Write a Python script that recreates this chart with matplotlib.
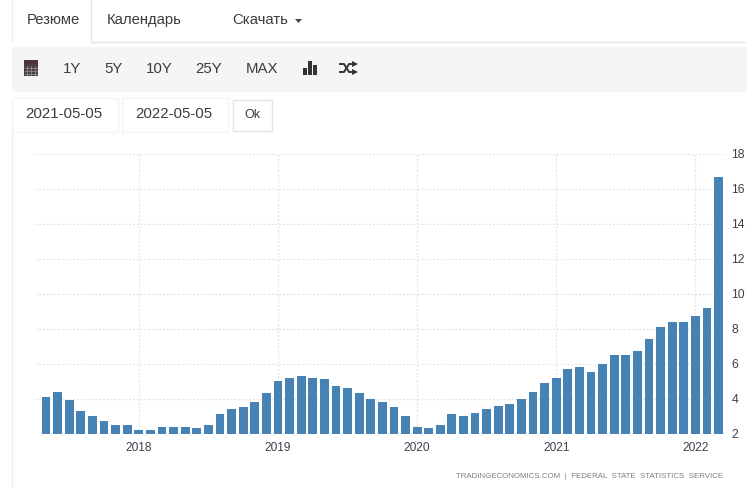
import matplotlib
matplotlib.use("Agg")
import matplotlib.pyplot as plt
from matplotlib.patches import Rectangle, Polygon

plt.rcParams['font.family'] = ['Liberation Sans', 'DejaVu Sans']

# Annual inflation, monthly from May 2017 to March 2022
inflation = [
    4.1, 4.4, 3.9, 3.3, 3.0, 2.7, 2.5, 2.5,
    2.2, 2.2, 2.4, 2.4, 2.4, 2.3, 2.5, 3.1, 3.4, 3.5, 3.8, 4.3,
    5.0, 5.2, 5.3, 5.2, 5.1, 4.7, 4.6, 4.3, 4.0, 3.8, 3.5, 3.0,
    2.4, 2.3, 2.5, 3.1, 3.0, 3.2, 3.4, 3.6, 3.7, 4.0, 4.4, 4.9,
    5.2, 5.7, 5.8, 5.5, 6.0, 6.5, 6.5, 6.7, 7.4, 8.1, 8.4, 8.4,
    8.7, 9.2, 16.7,
]
year_labels = ['2018', '2019', '2020', '2021', '2022']
january_positions = [8, 20, 32, 44, 56]
y_ticks = [2, 4, 6, 8, 10, 12, 14, 16, 18]
range_buttons = ['1Y', '5Y', '10Y', '25Y', 'MAX']
range_button_x = [72, 114, 159, 209, 262]
tab_labels = ['Резюме', 'Календарь', 'Скачать']
tab_x = [27, 107, 232]
date_from, date_to = '2021-05-05', '2022-05-05'
source_note = 'TRADINGECONOMICS.COM  |  FEDERAL  STATE  STATISTICS  SERVICE'

W, H = 747, 488
fig = plt.figure(figsize=(W / 100, H / 100), dpi=100, facecolor='white')

# Page layer in pixel coordinates, origin at the top left
ui = fig.add_axes([0, 0, 1, 1])
ui.set_xlim(0, W)
ui.set_ylim(H, 0)
ui.axis('off')

BORDER = '#e6e6e6'
TEXT = '#3c3c3c'

# Tab strip
ui.plot([91, W], [42, 42], color=BORDER, lw=1)
ui.plot([12, 12], [0, 42], color='#eeeeee', lw=1)
ui.plot([91, 91], [0, 42], color=BORDER, lw=1)
for label, x in zip(tab_labels, tab_x):
    ui.text(x, 20, label, fontsize=10.7, color=TEXT, va='center', ha='left')
ui.add_patch(Polygon([[295, 19], [302, 19], [298.5, 23]], color='#444444', lw=0))

# Toolbar
ui.add_patch(Rectangle((12, 47), W - 12, 45, fc='#f5f5f5', ec='none'))
for label, x in zip(range_buttons, range_button_x):
    ui.text(x, 69, label, fontsize=10.8, color=TEXT, va='center', ha='center')

# Calendar icon
ui.add_patch(Rectangle((24, 61), 14, 15, fc='#4a4040', ec='none'))
ui.add_patch(Rectangle((24, 60), 14, 4, fc='#4a3535', ec='none'))
for gx in (27, 31, 35):
    ui.plot([gx, gx], [66, 75], color='#9a9a9a', lw=0.5)
for gy in (68, 71, 74):
    ui.plot([25, 37], [gy, gy], color='#9a9a9a', lw=0.5)

# Bar-chart icon
for bx, top in zip((303, 308, 313), (68, 61, 65)):
    ui.add_patch(Rectangle((bx, top), 3.6, 75 - top, fc='#333333', ec='none'))

# Shuffle icon
ui.plot([340, 344, 349, 353], [64, 64, 72, 72], color='#333333', lw=1.4)
ui.plot([340, 344, 349, 353], [72, 72, 64, 64], color='#333333', lw=1.4)
ui.add_patch(Polygon([[352, 61], [358, 64], [352, 67]], color='#333333', lw=0))
ui.add_patch(Polygon([[352, 69], [358, 72], [352, 75]], color='#333333', lw=0))

# Date range inputs and the confirm button
ui.add_patch(Rectangle((12, 98), 106, 34, fc='white', ec='#f4f4f4', lw=1))
ui.add_patch(Rectangle((122, 98), 106, 34, fc='white', ec='#f4f4f4', lw=1))
ui.text(25, 114, date_from, fontsize=10.8, color=TEXT, va='center', ha='left')
ui.text(135, 114, date_to, fontsize=10.8, color=TEXT, va='center', ha='left')
ui.add_patch(Rectangle((232.5, 99.5), 39, 31, fc='white', ec='#e4e4e4', lw=1))
ui.text(252, 115, 'Ok', fontsize=9, color=TEXT, va='center', ha='center')

# Chart panel edge
ui.plot([12, 12], [132, H], color='#efefef', lw=1)

# Chart axes
left, right, top, bottom = 35, 725, 154, 433.5
ax = fig.add_axes([left / W, 1 - bottom / H, (right - left) / W, (bottom - top) / H])
ax.patch.set_alpha(0)
x_positions = list(range(len(inflation)))
ax.bar(x_positions, inflation, width=0.76, color='#4682b4', zorder=3)
ax.set_xlim(-0.95, 58.55)
ax.set_ylim(2, 18)

ax.set_xticks(january_positions)
ax.set_xticklabels(year_labels)
ax.set_yticks(y_ticks)
ax.yaxis.tick_right()
ax.tick_params(axis='x', length=0, pad=6, labelsize=8.6, labelcolor='#3f3f4f')
ax.tick_params(axis='y', length=0, pad=4.5, labelsize=8.8, labelcolor='#3f3f4f')
ax.grid(True, color='#e2e2e2', lw=0.9, ls=(0, (1.5, 1.5)), zorder=0)
ax.set_axisbelow(True)
for spine in ax.spines.values():
    spine.set_visible(False)

ui.text(723, 477, source_note, fontsize=5.65, color='#808080', va='center', ha='right')

fig.savefig('out.png', dpi=100)
